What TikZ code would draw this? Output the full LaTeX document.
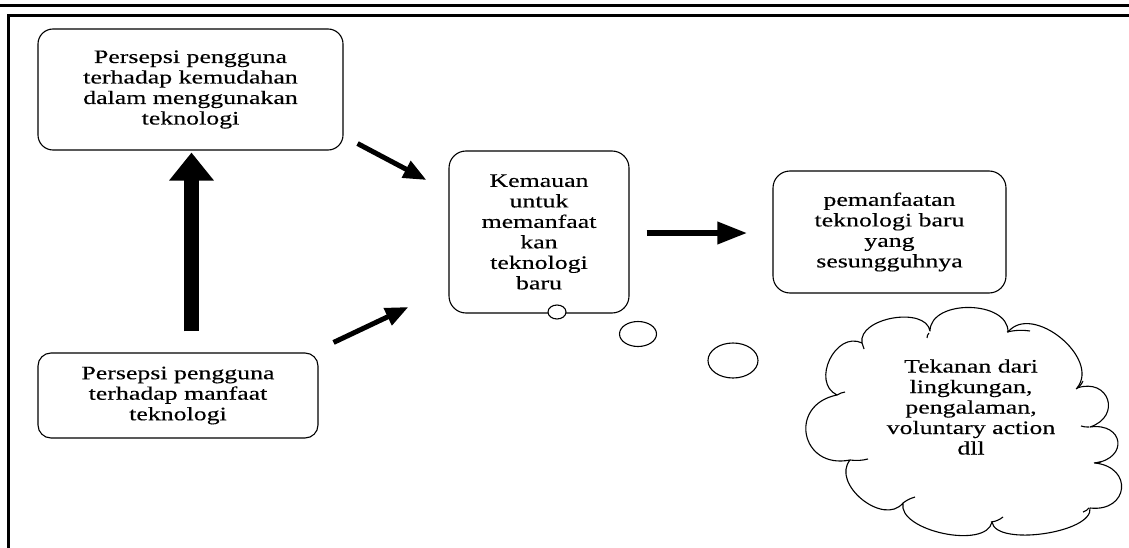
\documentclass[tikz,border=0pt]{standalone}
\usepackage{fontspec}
\setmainfont[FakeStretch=1.36,FakeBold=0.3]{Liberation Serif}
\usetikzlibrary{arrows.meta,shapes.geometric}
\begin{document}
\begin{tikzpicture}[x=1pt,y=-1pt,
  txt/.style={align=center, font=\fontsize{19}{20.5}\selectfont, text=black},
  box/.style={txt, draw, line width=1.1pt, rounded corners=15pt, inner sep=0pt},
  bubble/.style={draw, ellipse, fill=white, line width=1.1pt, inner sep=0pt},
  puff/.style={bend left=90, looseness=#1},
  diagarrow/.style={line width=5pt, -{Triangle[length=23pt,width=18pt]}},
  harrow/.style={line width=6.5pt, -{Triangle[length=30pt,width=21pt]}},
  varrow/.style={line width=15pt, -{Triangle[length=28pt,width=43pt]}}]
\useasboundingbox (0,0) rectangle (1129,548);
% frame lines
\draw[line width=2.7pt] (0,5.3) -- (1129,5.3);
\draw[line width=2.6pt] (8.7,548) -- (8.7,15.5) -- (1129,15.5);
% boxes
\node[box, minimum width=305pt, minimum height=121pt] (b1) at (190.5,89.5)
  {Persepsi pengguna\\terhadap kemudahan\\dalam menggunakan\\teknologi};
\node[box, minimum width=280pt, minimum height=85pt, rounded corners=13pt] (b4) at (178,395.5)
  {Persepsi pengguna\\terhadap manfaat\\teknologi};
\node[box, minimum width=180pt, minimum height=162pt, rounded corners=17pt] (b2) at (539,232)
  {Kemauan\\untuk\\memanfaat\\kan\\teknologi\\baru};
\node[box, minimum width=233pt, minimum height=122pt, rounded corners=17pt] (b3) at (889.5,232)
  {pemanfaatan\\teknologi baru\\yang\\sesungguhnya};
% thought bubbles
\node[bubble, minimum width=18pt, minimum height=14pt] (c1) at (557,312) {};
\node[bubble, minimum width=37pt, minimum height=25pt] (c2) at (638,334) {};
\node[bubble, minimum width=50pt, minimum height=35pt] (c3) at (733,360.5) {};
% cloud outline
\draw[line width=1.1pt, line join=round]
  (862,343) to[puff=0.95] (930,331)
            to[puff=1.05] (1008,332)
            to[puff=1.1]  (1077,388)
            to[puff=2.1]  (1090,427)
            to[puff=2.4]  (1095,463)
            to[puff=2.2]  (1090,508)
            to[puff=0.65] (992,522)
            to[puff=0.8]  (903,503)
            to[puff=1.15] (850,460)
            to[puff=1.95] (837,395)
            to[puff=1.3]  (862,343) -- cycle;
% cloud seams
\draw[line width=1.1pt]
  (929,333) to[bend right=20] (927,338)
  (1007,332) to[bend left=10] (1030,331)
  (1076,389) to[bend right=15] (1083,381)
  (1089,427) to[bend left=10] (1081,426)
  (1094,463) to[bend left=10] (1101,462)
  (1089,508) to[bend left=15] (1083,512)
  (991,522) to[bend right=15] (1003,517)
  (903,503) to[bend left=10] (915,497)
  (850,460) to[bend right=10] (868,459)
  (837,395) to[bend left=10] (845,392)
  (862,343) to[bend left=10] (864,349);
\node[txt] (ct) at (971,407)
  {Tekanan dari\\lingkungan,\\pengalaman,\\voluntary action\\dll};
% arrows
\draw[varrow] ([shift={(13.5,-21)}]b4.north) -- ([shift={(1,2)}]b1.south);
\draw[diagarrow] ([shift={(14,-7)}]b1.south east) -- ([shift={(-22,-52)}]b2.west);
\draw[diagarrow] ([shift={(15,-10)}]b4.north east) -- ([shift={(-40,75)}]b2.west);
\draw[harrow] ([shift={(17,1)}]b2.east) -- ([shift={(-25,1)}]b3.west);
\end{tikzpicture}
\end{document}
